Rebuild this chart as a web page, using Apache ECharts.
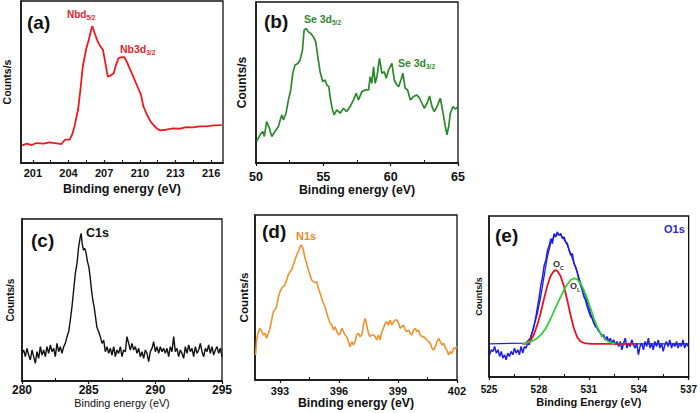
<!DOCTYPE html>
<html>
<head>
<meta charset="utf-8">
<script src="https://cdn.jsdelivr.net/npm/echarts@6/dist/echarts.min.js"></script>
<style>
  html, body { margin: 0; padding: 0; background: #fff; }
  #main { width: 700px; height: 413px; }
</style>
</head>
<body>
<div id="main"></div>
<script>
// ---- data (arbitrary intensity units) ----
// (a) Nb 3d
const energyA = [200.1, 200.5, 200.9, 201.3, 201.9, 202.4, 203.0, 203.4, 203.7, 204.1, 204.3, 204.5, 204.8, 205.0, 205.2, 205.5, 205.7, 205.9, 206.0, 206.2, 206.4, 206.6, 206.9, 207.1, 207.3, 207.5, 207.8, 208.0, 208.2, 208.5, 208.7, 208.9, 209.2, 209.5, 209.8, 210.1, 210.3, 210.6, 210.9, 211.2, 211.5, 211.7, 212.2, 212.8, 213.4, 213.9, 214.5, 215.0, 215.6, 216.2, 216.9];
const countsA = [53, 58, 54, 60, 58, 62, 59, 57, 70, 70, 85, 110, 160, 220, 290, 345, 370, 400, 412, 390, 370, 355, 340, 300, 260, 262, 270, 295, 315, 318, 318, 305, 280, 255, 230, 205, 170, 145, 125, 112, 102, 98, 100, 104, 103, 108, 107, 110, 110, 113, 114];

// (b) Se 3d
const energyB = [50.05, 50.30, 50.50, 50.62, 50.79, 50.99, 51.17, 51.41, 51.66, 51.91, 52.03, 52.23, 52.41, 52.58, 52.73, 52.90, 53.10, 53.27, 53.45, 53.57, 53.72, 53.89, 54.07, 54.26, 54.44, 54.59, 54.76, 54.96, 55.13, 55.26, 55.41, 55.50, 55.65, 55.80, 56.00, 56.25, 56.50, 56.74, 56.99, 57.24, 57.44, 57.61, 57.86, 58.11, 58.36, 58.48, 58.60, 58.73, 58.85, 58.98, 59.17, 59.35, 59.52, 59.67, 59.84, 60.09, 60.27, 60.46, 60.59, 60.76, 60.91, 61.08, 61.26, 61.46, 61.70, 61.95, 62.15, 62.32, 62.50, 62.70, 62.89, 63.07, 63.24, 63.44, 63.69, 63.89, 64.06, 64.18, 64.31, 64.43, 64.63, 64.80, 64.98];
const countsB = [65, 85, 95, 80, 125, 105, 80, 95, 110, 145, 130, 150, 190, 220, 270, 295, 300, 310, 340, 400, 405, 395, 390, 380, 365, 320, 275, 245, 250, 235, 230, 200, 165, 145, 160, 150, 165, 155, 170, 190, 210, 190, 215, 220, 220, 260, 240, 290, 240, 260, 315, 270, 275, 255, 280, 300, 250, 235, 230, 250, 270, 225, 220, 190, 200, 205, 195, 180, 165, 180, 202, 170, 155, 170, 195, 150, 110, 85, 110, 150, 170, 162, 170];

// (c) C 1s
const energyC = [280.000, 280.125, 280.250, 280.375, 280.500, 280.625, 280.750, 280.875, 281.000, 281.125, 281.250, 281.375, 281.500, 281.625, 281.750, 281.875, 282.000, 282.125, 282.250, 282.375, 282.500, 282.625, 282.750, 282.875, 283.000, 283.125, 283.250, 283.375, 283.500, 283.625, 283.750, 283.875, 284.000, 284.125, 284.250, 284.375, 284.44, 284.51, 284.61, 284.71, 284.81, 284.91, 285.01, 285.11, 285.21, 285.31, 285.41, 285.51, 285.61, 285.750, 285.875, 286.000, 286.125, 286.250, 286.375, 286.500, 286.625, 286.750, 286.875, 287.000, 287.125, 287.250, 287.375, 287.500, 287.625, 287.750, 287.875, 288.000, 288.125, 288.250, 288.375, 288.500, 288.625, 288.750, 288.875, 289.000, 289.125, 289.250, 289.375, 289.500, 289.625, 289.750, 289.875, 290.000, 290.125, 290.250, 290.375, 290.500, 290.625, 290.750, 290.875, 291.000, 291.125, 291.250, 291.375, 291.500, 291.625, 291.750, 291.875, 292.000, 292.125, 292.250, 292.375, 292.500, 292.625, 292.750, 292.875, 293.000, 293.125, 293.250, 293.375, 293.500, 293.625, 293.750, 293.875, 294.000, 294.125, 294.250, 294.375, 294.500, 294.625, 294.750, 294.875, 295.000];
const countsC = [83, 93, 73, 98, 78, 63, 93, 73, 53, 88, 68, 103, 78, 93, 73, 103, 83, 108, 88, 98, 73, 113, 88, 103, 83, 103, 113, 133, 148, 183, 223, 273, 323, 353, 403, 433, 443, 413, 393, 398, 383, 358, 343, 313, 273, 243, 223, 193, 163, 148, 133, 113, 123, 88, 103, 83, 98, 78, 103, 73, 93, 83, 103, 73, 93, 88, 133, 113, 93, 113, 93, 103, 83, 98, 73, 88, 68, 93, 83, 58, 88, 98, 118, 88, 103, 83, 103, 88, 98, 83, 98, 73, 103, 88, 133, 88, 98, 73, 93, 83, 68, 103, 83, 108, 88, 98, 73, 103, 83, 93, 113, 88, 73, 98, 88, 108, 83, 103, 78, 93, 103, 83, 98, 73];

// (d) N 1s
const energyD = [391.76, 391.81, 391.90, 391.98, 392.07, 392.15, 392.24, 392.32, 392.41, 392.49, 392.58, 392.66, 392.75, 392.83, 392.92, 393.00, 393.08, 393.17, 393.25, 393.34, 393.42, 393.51, 393.59, 393.68, 393.76, 393.85, 393.93, 394.02, 394.10, 394.19, 394.27, 394.36, 394.44, 394.53, 394.61, 394.70, 394.78, 394.87, 394.95, 395.04, 395.12, 395.21, 395.29, 395.38, 395.46, 395.55, 395.63, 395.72, 395.80, 395.89, 395.97, 396.06, 396.14, 396.23, 396.31, 396.40, 396.48, 396.57, 396.65, 396.74, 396.82, 396.90, 396.99, 397.07, 397.16, 397.24, 397.33, 397.41, 397.50, 397.58, 397.67, 397.75, 397.84, 397.92, 398.01, 398.09, 398.18, 398.26, 398.35, 398.43, 398.52, 398.60, 398.69, 398.77, 398.86, 398.94, 399.03, 399.11, 399.20, 399.28, 399.37, 399.45, 399.54, 399.62, 399.71, 399.79, 399.88, 399.96, 400.05, 400.13, 400.22, 400.30, 400.39, 400.47, 400.56, 400.64, 400.73, 400.81, 400.90, 400.98, 401.07, 401.15, 401.24, 401.32, 401.41, 401.49, 401.58, 401.66, 401.75, 401.83, 401.92, 402.00];
const countsD = [75, 120, 145, 155, 145, 135, 140, 125, 140, 155, 180, 205, 210, 220, 250, 265, 275, 280, 285, 300, 315, 325, 330, 345, 360, 375, 385, 400, 405, 390, 365, 350, 330, 315, 300, 295, 292, 295, 275, 260, 245, 230, 220, 200, 185, 170, 165, 150, 160, 145, 135, 140, 155, 145, 135, 130, 115, 100, 115, 105, 115, 135, 140, 130, 135, 165, 185, 165, 140, 130, 135, 135, 130, 120, 135, 120, 145, 155, 170, 175, 165, 180, 165, 175, 180, 180, 170, 155, 160, 165, 150, 145, 150, 140, 135, 150, 155, 145, 150, 135, 130, 130, 125, 120, 115, 110, 95, 90, 100, 115, 125, 115, 105, 110, 95, 90, 75, 85, 80, 95, 95, 100];

// (e) O 1s: measured data + fitted envelope and components
const energyE = [525.04, 525.14, 525.24, 525.34, 525.44, 525.54, 525.64, 525.74, 525.83, 525.93, 526.03, 526.13, 526.23, 526.33, 526.43, 526.53, 526.63, 526.73, 526.83, 526.93, 527.03, 527.13, 527.23, 527.32, 527.42, 527.52, 527.62, 527.72, 527.82, 527.92, 528.02, 528.12, 528.22, 528.32, 528.42, 528.52, 528.62, 528.72, 528.81, 528.91, 529.01, 529.11, 529.21, 529.31, 529.41, 529.51, 529.61, 529.71, 529.81, 529.91, 530.01, 530.11, 530.21, 530.30, 530.40, 530.50, 530.60, 530.70, 530.80, 530.90, 531.00, 531.10, 531.20, 531.30, 531.40, 531.50, 531.60, 531.70, 531.79, 531.89, 531.99, 532.09, 532.19, 532.29, 532.39, 532.49, 532.59, 532.69, 532.79, 532.89, 532.99, 533.09, 533.19, 533.29, 533.38, 533.48, 533.58, 533.68, 533.78, 533.88, 533.98, 534.08, 534.18, 534.28, 534.38, 534.48, 534.58, 534.68, 534.78, 534.87, 534.97, 535.07, 535.17, 535.27, 535.37, 535.47, 535.57, 535.67, 535.77, 535.87, 535.97, 536.07, 536.17, 536.27, 536.36, 536.46, 536.56, 536.66, 536.76, 536.86, 536.96];
const countsE = [67, 82, 77, 92, 72, 82, 62, 77, 57, 67, 52, 72, 62, 77, 67, 87, 72, 82, 67, 92, 72, 92, 87, 102, 97, 122, 137, 157, 182, 212, 242, 277, 302, 337, 352, 382, 397, 417, 402, 432, 422, 437, 427, 432, 417, 422, 407, 402, 382, 367, 372, 342, 332, 317, 292, 277, 262, 242, 232, 212, 197, 182, 177, 162, 152, 147, 137, 132, 122, 127, 112, 122, 107, 117, 102, 112, 97, 107, 92, 107, 82, 102, 117, 87, 102, 92, 112, 97, 87, 102, 67, 92, 102, 82, 107, 92, 117, 87, 102, 82, 107, 92, 112, 87, 102, 77, 97, 107, 92, 112, 87, 102, 92, 107, 87, 102, 92, 112, 87, 102, 92];
const fitEnergyE = [525.0, 527.2, 527.5, 527.9, 528.1, 528.3, 528.5, 528.7, 528.9, 529.1, 529.3, 529.5, 529.7, 529.9, 530.1, 530.3, 530.5, 530.7, 530.9, 531.1, 531.3, 531.5, 531.7, 532.0, 532.3, 532.6, 537.0];
const fitCountsE = [100, 102, 118, 190, 240, 300, 360, 402, 422, 430, 428, 416, 398, 373, 345, 315, 285, 258, 226, 192, 166, 148, 132, 115, 105, 100, 100];
const ocEnergyE = [527.0, 527.2, 527.5, 527.7, 527.9, 528.1, 528.3, 528.5, 528.7, 528.9, 529.0, 529.1, 529.3, 529.5, 529.7, 529.9, 530.1, 530.3, 530.5, 530.8, 531.2, 533.8];
const ocCountsE = [100, 100, 110, 128, 157, 192, 234, 274, 304, 319, 322, 320, 304, 274, 232, 187, 147, 120, 107, 101, 100, 100];
const olEnergyE = [527.03, 527.23, 527.52, 527.82, 528.12, 528.42, 528.72, 529.01, 529.31, 529.61, 529.91, 530.11, 530.30, 530.50, 530.70, 530.90, 531.10, 531.30, 531.50, 531.70, 531.99, 532.29, 532.59];
const olCountsE = [100, 102, 107, 114, 127, 147, 177, 210, 242, 272, 292, 297, 294, 282, 262, 237, 207, 177, 152, 132, 112, 104, 100];

// tick labels of each panel
const ticksA = [201, 204, 207, 210, 213, 216];
const ticksB = [50, 55, 60, 65];
const ticksC = [280, 285, 290, 295];
const ticksD = [393, 396, 399, 402];
const ticksE = [525, 528, 531, 534, 537];
const minorA = [202.5, 205.5, 208.5, 211.5, 214.5];
const minorB = [52.5, 57.5, 62.5];
const minorC = [282.5, 287.5, 292.5];
const minorD = [394.5, 397.5, 400.5];
const minorE = [526.5, 529.5, 532.5, 535.5];

function zip(xs, ys) { return xs.map((x, i) => [x, ys[i]]); }

const FONT = "'Liberation Sans', Arial, sans-serif";

// layout of the five panels
const panels = [
  { rect: [21, 1, 202, 162], x: [200, 217], yMax: 487, ticks: ticksA, minor: minorA, tickOut: false,
    tickFont: 11, tickMargin: 4, xName: 'Binding energy (eV)', xNameFont: 12.5, xNameBold: true, xNameGap: 19,
    yNameFont: 10.5, yNameGap: 9 },
  { rect: [256, 2, 202, 161], x: [50, 65], yMax: 485, ticks: ticksB, minor: minorB, tickOut: true,
    tickFont: 12.5, tickMargin: 7, xName: 'Binding energy (eV)', xNameFont: 12.3, xNameBold: true, xNameGap: 21,
    yNameFont: 12, yNameGap: 8 },
  { rect: [22, 219, 200, 162], x: [280, 295], yMax: 486, ticks: ticksC, minor: minorC, tickOut: true,
    tickFont: 12, tickMargin: 3, xName: 'Binding energy (eV)', xNameFont: 10.8, xNameBold: false, xNameGap: 16,
    yNameFont: 10, yNameGap: 7 },
  { rect: [255, 215, 202, 165], x: [391.73, 402], yMax: 495, ticks: ticksD, minor: minorD, tickOut: true,
    tickFont: 11, tickMargin: 5, xName: 'Binding energy (eV)', xNameFont: 12.3, xNameBold: true, xNameGap: 16,
    yNameFont: 11.7, yNameGap: 6 },
  { rect: [489, 216, 202, 161], x: [525, 537], yMax: 485, ticks: ticksE, minor: minorE, tickOut: true,
    tickFont: 10, tickMargin: 7, xName: 'Binding Energy (eV)', xNameFont: 11, xNameBold: true, xNameGap: 19,
    yNameFont: 9, yNameGap: 6 }
];

const grid = [], xAxis = [], yAxis = [];
panels.forEach((p, i) => {
  grid.push({ left: p.rect[0], top: p.rect[1], width: p.rect[2], height: p.rect[3],
    show: true, borderColor: '#111', borderWidth: 1.3, backgroundColor: 'transparent', containLabel: false });
  xAxis.push({
    gridIndex: i, type: 'value', min: p.x[0], max: p.x[1], position: 'bottom',
    axisLine: { show: true, onZero: false, lineStyle: { color: '#111', width: 1.5 } },
    axisTick: { show: true, inside: !p.tickOut, length: 3, customValues: p.ticks, lineStyle: { color: '#111', width: 1.2 } },
    axisLabel: { customValues: p.ticks, fontSize: p.tickFont, fontWeight: 'bold', color: '#111',
      fontFamily: FONT, margin: p.tickMargin, showMinLabel: true, showMaxLabel: true },
    splitLine: { show: false },
    name: p.xName, nameLocation: 'middle', nameGap: p.xNameGap,
    nameTextStyle: { fontSize: p.xNameFont, fontWeight: p.xNameBold ? 'bold' : 'normal', color: '#111', fontFamily: FONT }
  });
  // small inward ticks halfway between the labels
  xAxis.push({
    gridIndex: i, type: 'value', min: p.x[0], max: p.x[1], position: 'bottom',
    axisLine: { show: false },
    axisTick: { show: true, inside: true, length: 3, customValues: p.minor, lineStyle: { color: '#111', width: 1 } },
    axisLabel: { show: false }, splitLine: { show: false }
  });
  yAxis.push({
    gridIndex: i, type: 'value', min: 0, max: p.yMax,
    axisLine: { show: true, lineStyle: { color: '#111', width: 1.5 } },
    axisTick: { show: false }, axisLabel: { show: false }, splitLine: { show: false },
    name: 'Counts/s', nameLocation: 'middle', nameGap: p.yNameGap, nameRotate: 90,
    nameTextStyle: { fontSize: p.yNameFont, fontWeight: 'bold', color: '#111', fontFamily: FONT }
  });
});

function line(panel, data, color, width, z) {
  return { type: 'line', xAxisIndex: panel * 2, yAxisIndex: panel, data: data,
    symbol: 'none', showSymbol: false, lineStyle: { color: color, width: width },
    itemStyle: { color: color }, z: z || 2, animation: false, silent: true };
}

const series = [
  line(0, zip(energyA, countsA), '#f0191e', 1.8),
  line(1, zip(energyB, countsB), '#2a8a2a', 1.7),
  line(2, zip(energyC, countsC), '#111111', 1.4),
  line(3, zip(energyD, countsD), '#f0922b', 1.6),
  line(4, zip(energyE, countsE), '#1e1ee6', 1.5, 2),
  line(4, zip(fitEnergyE, fitCountsE), '#1e1ee6', 1.3, 3),
  line(4, zip(ocEnergyE, ocCountsE), '#e8141b', 1.8, 4),
  line(4, zip(olEnergyE, olCountsE), '#33d033', 1.8, 5)
];

function label(x, y, text, rich, align) {
  return { type: 'text', x: x, y: y, z: 100, silent: true,
    style: { text: text, rich: rich, align: align || 'left', verticalAlign: 'middle', fontFamily: FONT } };
}
function sub(color, big, small) {
  return {
    m: { fontSize: big, fontWeight: 'bold', fill: color, fontFamily: FONT, lineHeight: big + 4, verticalAlign: 'middle' },
    s: { fontSize: small, fontWeight: 'bold', fill: color, fontFamily: FONT, lineHeight: big + 4, verticalAlign: 'bottom' }
  };
}
const letter = { m: { fontSize: 19, fontWeight: 'bold', fill: '#111', fontFamily: FONT } };

const graphic = [
  label(27, 22, '{m|(a)}', letter),
  label(264, 21, '{m|(b)}', letter),
  label(31, 240, '{m|(c)}', letter),
  label(262, 231, '{m|(d)}', letter),
  label(495, 235, '{m|(e)}', letter),
  label(67, 14, '{m|Nbd}{s|5/2}', sub('#e3262b', 10, 6.5)),
  label(120, 49, '{m|Nb3d}{s|3/2}', sub('#e3262b', 10.5, 6.5)),
  label(304, 19, '{m|Se 3d}{s|5/2}', sub('#2e8b2e', 10.5, 6.5)),
  label(398, 63, '{m|Se 3d}{s|3/2}', sub('#2e8b2e', 10.5, 6.5)),
  label(86, 233, '{m|C1s}', sub('#111', 12.5, 8)),
  label(296, 236, '{m|N1s}', sub('#e88a2a', 11, 7)),
  label(664, 229, '{m|O1s}', sub('#2b2bd0', 11, 7)),
  label(553, 264, '{m|O}{s|C}', sub('#333', 9, 5.5)),
  label(570, 286, '{m|O}{s|L}', sub('#333', 9, 5.5))
];

const chart = echarts.init(document.getElementById('main'), null, { renderer: 'svg' });
chart.setOption({
  animation: false,
  backgroundColor: '#fff',
  grid: grid,
  xAxis: xAxis,
  yAxis: yAxis,
  series: series,
  graphic: graphic
});
</script>
</body>
</html>
